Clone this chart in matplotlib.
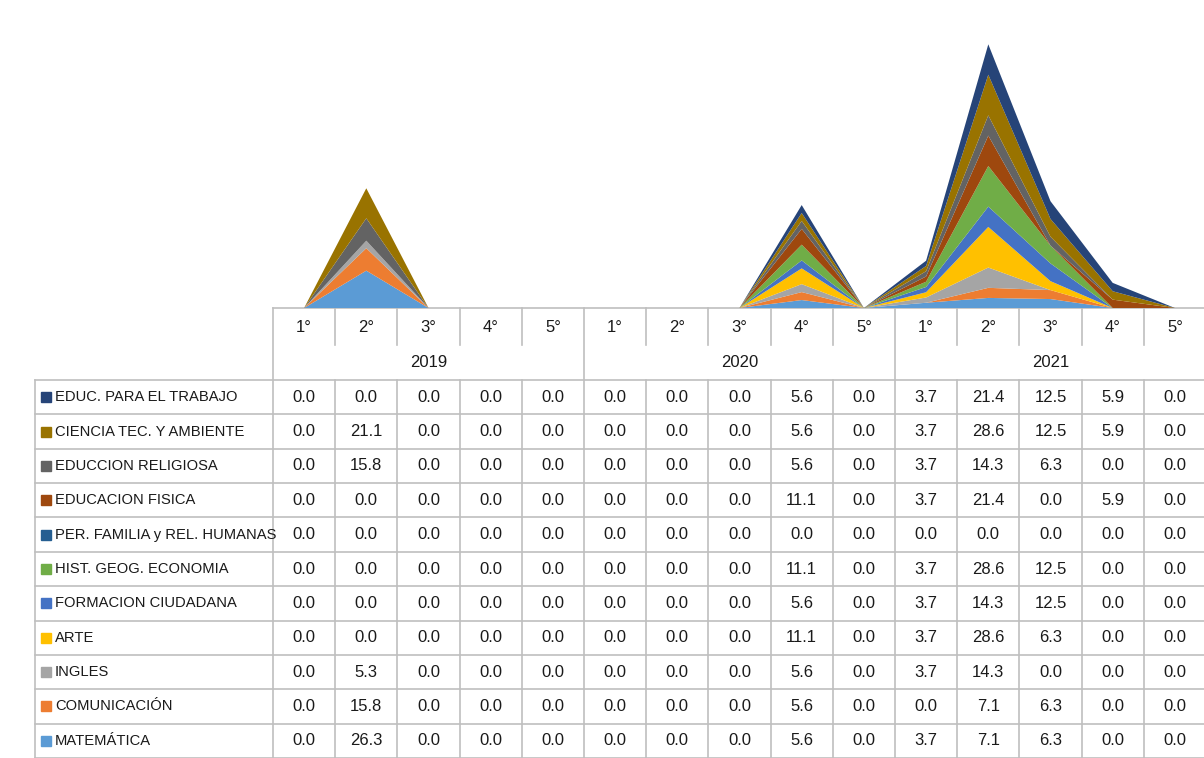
import matplotlib
matplotlib.use('Agg')
import matplotlib.pyplot as plt
from matplotlib.patches import Rectangle

plt.rcParams['font.family'] = ['Liberation Sans', 'DejaVu Sans']

# categories
years = ['2019', '2020', '2021']
grades = ['1°', '2°', '3°', '4°', '5°']

# series in table order (top row first)
subjects = [
    'EDUC. PARA EL TRABAJO',
    'CIENCIA TEC. Y AMBIENTE',
    'EDUCCION RELIGIOSA',
    'EDUCACION FISICA',
    'PER. FAMILIA y REL. HUMANAS',
    'HIST. GEOG. ECONOMIA',
    'FORMACION CIUDADANA',
    'ARTE',
    'INGLES',
    'COMUNICACIÓN',
    'MATEMÁTICA',
]
colors = ['#264478', '#997300', '#636363', '#9e480e', '#255e91', '#70ad47',
          '#4472c4', '#ffc000', '#a5a5a5', '#ed7d31', '#5b9bd5']

educ_trabajo = [0.0, 0.0, 0.0, 0.0, 0.0, 0.0, 0.0, 0.0, 5.6, 0.0, 3.7, 21.4, 12.5, 5.9, 0.0]
ciencia = [0.0, 21.1, 0.0, 0.0, 0.0, 0.0, 0.0, 0.0, 5.6, 0.0, 3.7, 28.6, 12.5, 5.9, 0.0]
religiosa = [0.0, 15.8, 0.0, 0.0, 0.0, 0.0, 0.0, 0.0, 5.6, 0.0, 3.7, 14.3, 6.3, 0.0, 0.0]
fisica = [0.0, 0.0, 0.0, 0.0, 0.0, 0.0, 0.0, 0.0, 11.1, 0.0, 3.7, 21.4, 0.0, 5.9, 0.0]
familia = [0.0, 0.0, 0.0, 0.0, 0.0, 0.0, 0.0, 0.0, 0.0, 0.0, 0.0, 0.0, 0.0, 0.0, 0.0]
historia = [0.0, 0.0, 0.0, 0.0, 0.0, 0.0, 0.0, 0.0, 11.1, 0.0, 3.7, 28.6, 12.5, 0.0, 0.0]
formacion = [0.0, 0.0, 0.0, 0.0, 0.0, 0.0, 0.0, 0.0, 5.6, 0.0, 3.7, 14.3, 12.5, 0.0, 0.0]
arte = [0.0, 0.0, 0.0, 0.0, 0.0, 0.0, 0.0, 0.0, 11.1, 0.0, 3.7, 28.6, 6.3, 0.0, 0.0]
ingles = [0.0, 5.3, 0.0, 0.0, 0.0, 0.0, 0.0, 0.0, 5.6, 0.0, 3.7, 14.3, 0.0, 0.0, 0.0]
comunicacion = [0.0, 15.8, 0.0, 0.0, 0.0, 0.0, 0.0, 0.0, 5.6, 0.0, 0.0, 7.1, 6.3, 0.0, 0.0]
matematica = [0.0, 26.3, 0.0, 0.0, 0.0, 0.0, 0.0, 0.0, 5.6, 0.0, 3.7, 7.1, 6.3, 0.0, 0.0]

values = [educ_trabajo, ciencia, religiosa, fisica, familia, historia,
          formacion, arte, ingles, comunicacion, matematica]

W, H = 1204, 758
fig = plt.figure(figsize=(W / 100, H / 100), dpi=100)

# layout in pixels
x0 = 273          # left edge of the first category column
colw = 62.2       # column width
leg_x = 35        # left edge of the legend column
base_y = 308      # baseline of the area / top of table
year_y = 345
data_y = 380
rowh = (H - data_y) / len(subjects)
ncat = len(years) * len(grades)
x1 = x0 + ncat * colw

# table layer in pixel coordinates
tab = fig.add_axes([0, 0, 1, 1])
tab.set_xlim(0, W)
tab.set_ylim(H, 0)
tab.axis('off')

grid = '#bfbfbf'
lw = 1.2
tc = '#1a1a1a'
fs = 12
fs_lab = 10.6

# horizontal lines
tab.plot([x0, x1], [base_y, base_y], color=grid, lw=lw)
for i in range(len(subjects) + 1):
    y = data_y + i * rowh
    tab.plot([leg_x, x1], [y, y], color=grid, lw=lw)

# vertical lines
tab.plot([x0, x0], [base_y, H], color=grid, lw=lw)
tab.plot([leg_x, leg_x], [data_y, H], color=grid, lw=lw)
for c in range(1, ncat + 1):
    x = x0 + c * colw
    if c % len(grades) == 0:
        tab.plot([x, x], [base_y, H], color=grid, lw=lw)
    else:
        tab.plot([x, x], [base_y, year_y], color=grid, lw=lw)
        tab.plot([x, x], [data_y, H], color=grid, lw=lw)

# header texts
for yi, yr in enumerate(years):
    for gi, g in enumerate(grades):
        c = yi * len(grades) + gi
        tab.text(x0 + (c + 0.5) * colw, (base_y + year_y) / 2 + 1, g,
                 ha='center', va='center', fontsize=fs, color=tc)
    tab.text(x0 + (yi + 0.5) * len(grades) * colw, (year_y + data_y) / 2, yr,
             ha='center', va='center', fontsize=fs, color=tc)

# rows: legend key + label + values
for r, (name, col, vals) in enumerate(zip(subjects, colors, values)):
    yc = data_y + (r + 0.5) * rowh
    tab.add_patch(Rectangle((41, yc - 5), 10, 10, color=col))
    tab.text(55, yc, name, ha='left', va='center', fontsize=fs_lab, color=tc)
    for c, v in enumerate(vals):
        tab.text(x0 + (c + 0.5) * colw, yc, f'{v:.1f}',
                 ha='center', va='center', fontsize=fs, color=tc)

# stacked area chart above the table
top_y = 24
ax = fig.add_axes([x0 / W, (H - base_y) / H, (x1 - x0) / W, (base_y - top_y) / H])
ax.set_facecolor('none')
xs = list(range(ncat))
ax.stackplot(xs, values[::-1], colors=colors[::-1], linewidth=0)
ax.set_xlim(-0.5, ncat - 0.5)
ax.set_ylim(0, 200)
ax.axis('off')

fig.savefig('out.png', dpi=100)
